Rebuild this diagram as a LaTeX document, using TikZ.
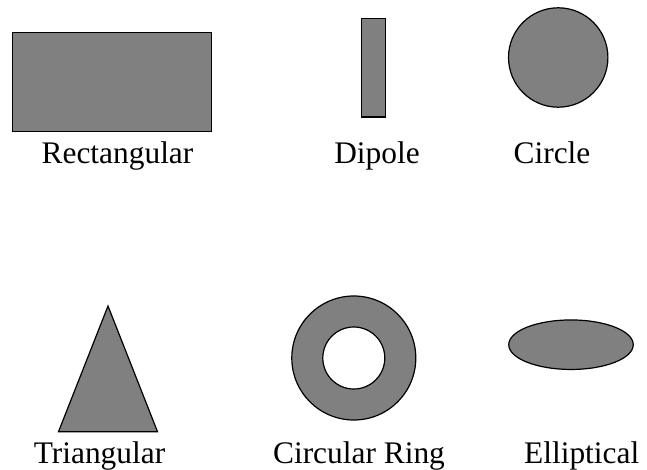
\documentclass[tikz,border=0pt]{standalone}
\usepackage{fontspec}
\setmainfont{Liberation Serif}
\usetikzlibrary{shapes.geometric}

\definecolor{patchgray}{RGB}{128,128,128}
\tikzset{
    patch/.style={draw=black, fill=patchgray, line width=1.2pt, inner sep=0pt},
    shapename/.style={anchor=base, inner sep=0pt, font=\fontsize{31.4}{36}\selectfont}
}

\begin{document}
\begin{tikzpicture}[x=1pt, y=-1pt]
        \useasboundingbox (0,0) rectangle (647,470);
        % top row
        \node[patch, rectangle, minimum width=199.4pt, minimum height=99.1pt] (rect) at (112,82.2) {};
        \node[patch, rectangle, minimum width=23.8pt, minimum height=98.8pt] (dipole) at (373.2,67.7) {};
        \node[patch, circle, minimum size=99.4pt] (circ) at (558.2,57.5) {};
        \node[shapename] (rectname) at (117.5,163.8) {Rectangular};
        \node[shapename] (dipolename) at (377,163.8) {Dipole};
        \node[shapename] (circname) at (552,163.8) {Circle};
        % bottom row
        \draw[patch] (108,306) -- (157.5,431.7) -- (58.5,431.7) -- cycle;
        \draw[patch, even odd rule] (353.8,358) circle[radius=62] (353.8,358) circle[radius=31];
        \node[patch, ellipse, minimum width=124.5pt, minimum height=49.5pt] (ellip) at (571,344.7) {};
        \node[shapename] (triname) at (99.5,463.3) {Triangular};
        \node[shapename] (ringname) at (359,463.3) {Circular Ring};
        \node[shapename] (ellipname) at (581.7,463.3) {Elliptical};
\end{tikzpicture}
\end{document}
